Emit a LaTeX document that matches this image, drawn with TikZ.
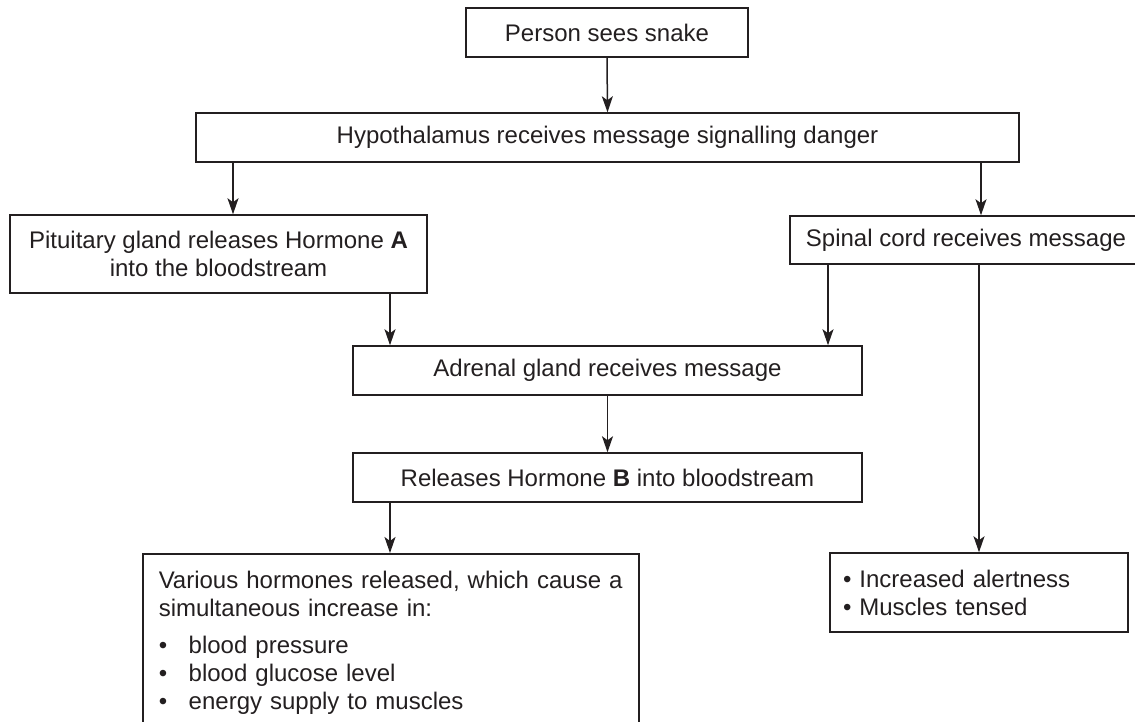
\documentclass[tikz,border=0pt]{standalone}
\usepackage{fontspec}
\setmainfont{Liberation Sans}
\usepackage{tikz}
\usetikzlibrary{arrows.meta}
\definecolor{ink}{HTML}{231F20}

\begin{document}
\begin{tikzpicture}[x=.5pt, y=-.5pt,
		box/.style={draw=ink, line width=.75pt, text=ink, inner sep=0pt, font=\fontsize{12}{14}\selectfont},
		flow/.style={draw=ink, line width=.75pt, -{Stealth[length=8pt, width=5.5pt, inset=2pt]}}]
				\useasboundingbox (0,0) rectangle (1135,722);
				\node[shape=coordinate] (pitx) at (233,0) {};
				\node[shape=coordinate] (spinx) at (981,0) {};
				\node[shape=coordinate] (leftx) at (390,0) {};
				\node[shape=coordinate] (rightx) at (828,0) {};
				\node[box, minimum width=141pt, minimum height=24.5pt] (person) at (607,32.5) {Person sees snake};
				\node[box, minimum width=411.5pt, minimum height=24.5pt] (hypo) at (607.5,137.5) {Hypothalamus receives message signalling danger};
				\node[box, align=center, minimum width=208.5pt, minimum height=39pt] (pit) at (218.5,254) {Pituitary gland releases Hormone \textbf{A}\\into the bloodstream};
				\node[box, minimum width=176pt, minimum height=24pt] (spinal) at (966,240) {Spinal cord receives message};
				\node[box, minimum width=254.5pt, minimum height=24.5pt] (adrenal) at (607.5,370.5) {Adrenal gland receives message};
				\node[box, minimum width=254.5pt, minimum height=24.5pt] (hormb) at (607.5,477.5) {Releases Hormone \textbf{B} into bloodstream};
				\node[box, anchor=north west, text width=232pt, inner xsep=8pt, inner ysep=8.5pt, align=left] (various) at (142,553) {Various hormones released, which cause a\\simultaneous increase in:\\[4.5pt]
					\makebox[15pt][l]{\textbullet}blood pressure\\
					\makebox[15pt][l]{\textbullet}blood glucose level\\
					\makebox[15pt][l]{\textbullet}energy supply to muscles};
				\node[box, text width=136pt, align=left, minimum width=149pt, minimum height=39.5pt] (alert) at (979,592.5) {\textbullet\ Increased alertness\\\textbullet\ Muscles tensed};
				\draw[flow] (person.south) -- (hypo.north);
				\draw[flow] (hypo.south -| pitx) -- (pit.north -| pitx);
				\draw[flow] (hypo.south -| spinx) -- (spinal.north -| spinx);
				\draw[flow] (pit.south -| leftx) -- (adrenal.north -| leftx);
				\draw[flow] (spinal.south -| rightx) -- (adrenal.north -| rightx);
				\draw[flow] (adrenal.south) -- (hormb.north);
				\draw[flow] (hormb.south -| leftx) -- (various.north -| leftx);
				\draw[flow] (spinal.south -| alert.north) -- (alert.north);
\end{tikzpicture}
\end{document}
